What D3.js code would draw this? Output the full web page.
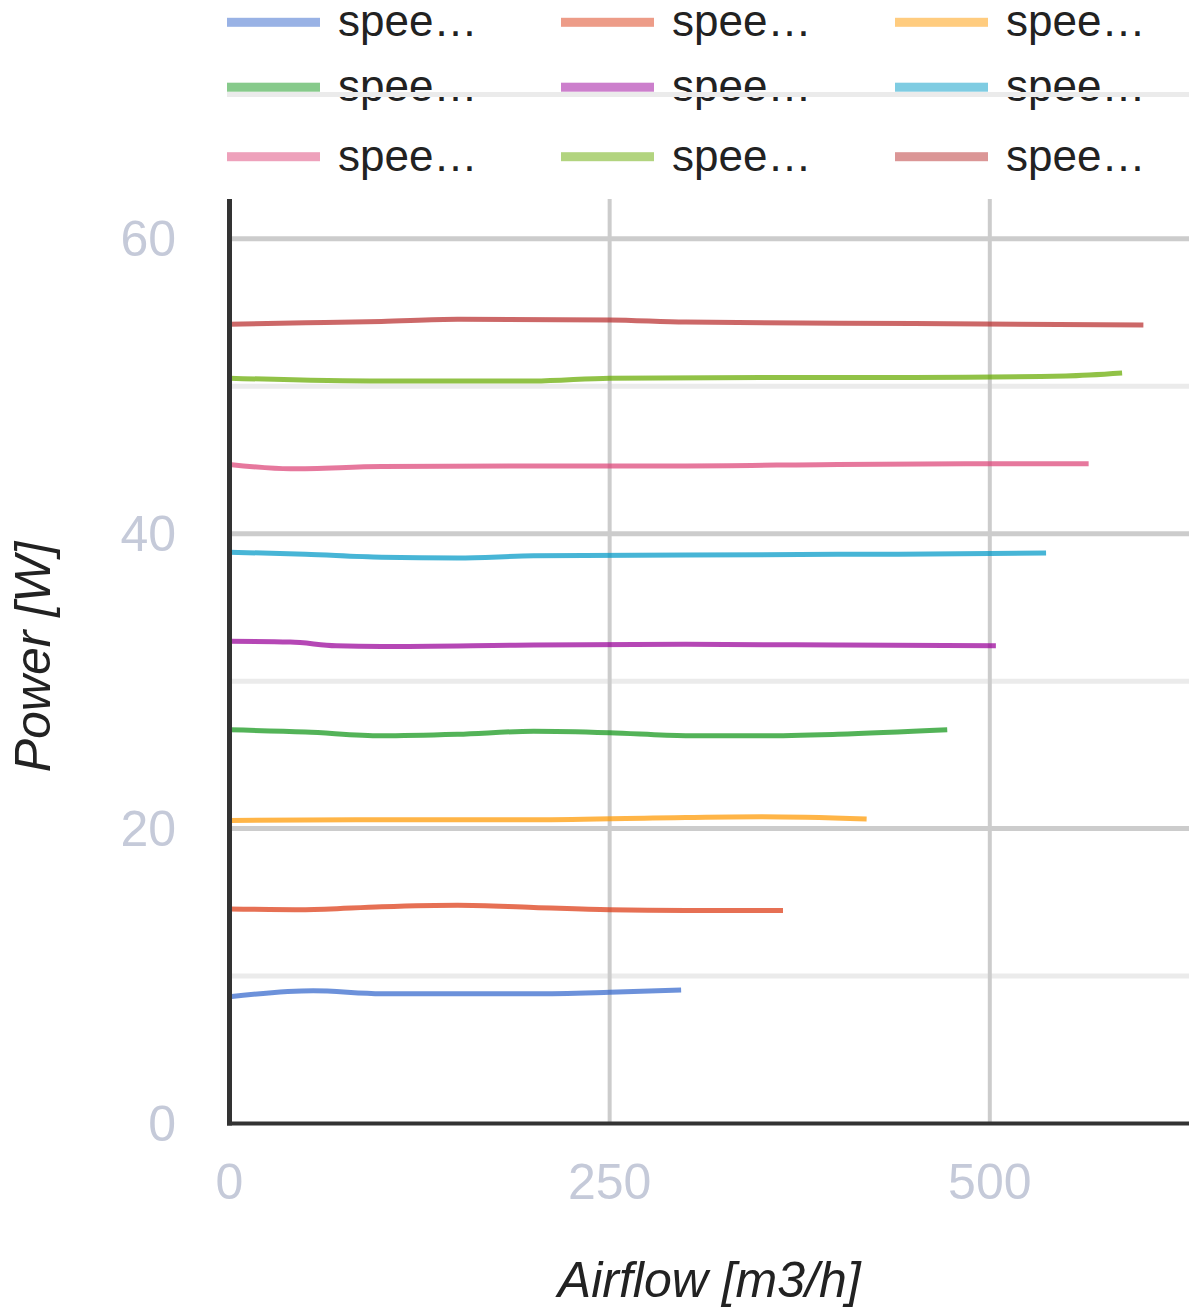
<!DOCTYPE html>
<html lang="en">
<head>
<meta charset="utf-8">
<title>Power vs Airflow</title>
<script src="https://d3js.org/d3.v7.min.js"></script>
<style>
  body { margin: 0; background: #fff; }
  svg { display: block; font-family: "Liberation Sans", Arial, sans-serif; }
  .tick-label { fill: #c5cad9; font-size: 50px; }
  .axis-title { fill: #222; font-size: 50px; font-style: italic; }
  .legend-text { fill: #222; font-size: 44px; }
</style>
</head>
<body>
<script>
// series names + colours (google-ish palette)
const seriesNames = ["speed 1", "speed 2", "speed 3", "speed 4", "speed 5", "speed 6", "speed 7", "speed 8", "speed 9"];
const seriesColors = ["#3366cc", "#dc3912", "#ff9900", "#109618", "#990099", "#0099c6", "#dd4477", "#66aa00", "#b82e2e"];

// airflow [m3/h] per series
const airflow = [
  [0, 55, 100, 150, 200, 250, 297],
  [0, 50, 100, 150, 200, 250, 300, 364],
  [0, 100, 200, 300, 350, 419],
  [0, 50, 100, 150, 200, 250, 300, 350, 400, 472],
  [0, 40, 70, 100, 200, 300, 400, 504],
  [0, 50, 100, 150, 200, 300, 400, 500, 537],
  [0, 40, 100, 200, 300, 400, 500, 565],
  [0, 100, 200, 250, 350, 450, 550, 587],
  [0, 50, 100, 150, 250, 300, 450, 601]
];
// power [W] per series
const power = [
  [8.6, 9.0, 8.8, 8.8, 8.8, 8.9, 9.05],
  [14.55, 14.5, 14.7, 14.8, 14.65, 14.5, 14.45, 14.45],
  [20.55, 20.6, 20.6, 20.75, 20.8, 20.65],
  [26.7, 26.55, 26.3, 26.4, 26.6, 26.5, 26.3, 26.3, 26.4, 26.7],
  [32.7, 32.65, 32.4, 32.35, 32.45, 32.5, 32.45, 32.4],
  [38.75, 38.6, 38.4, 38.35, 38.5, 38.55, 38.6, 38.65, 38.7],
  [44.7, 44.4, 44.55, 44.6, 44.6, 44.7, 44.75, 44.75],
  [50.55, 50.35, 50.35, 50.55, 50.6, 50.6, 50.7, 50.9],
  [54.2, 54.3, 54.4, 54.55, 54.5, 54.35, 54.25, 54.15]
];

const xTicks = [0, 250, 500];
const yTicks = [0, 20, 40, 60];
const yMinorTicks = [10, 30, 50];
const xMax = 631;
const yMax = 62.7;

const width = 1189, height = 1311;
const plotLeft = 229.5, plotRight = 1189, plotTop = 199, plotBottom = 1123.5;

const svg = d3.select("body").append("svg")
  .attr("width", width)
  .attr("height", height);

const x = d3.scaleLinear().domain([0, xMax]).range([plotLeft, plotRight]);
const y = d3.scaleLinear().domain([0, yMax]).range([plotBottom, plotTop]);

// gridlines
const grid = svg.append("g");
grid.selectAll(".ymin").data(yMinorTicks).join("line")
  .attr("x1", plotLeft).attr("x2", plotRight)
  .attr("y1", d => y(d)).attr("y2", d => y(d))
  .attr("stroke", "#ebebeb").attr("stroke-width", 5);
grid.selectAll(".ymaj").data(yTicks.filter(d => d > 0)).join("line")
  .attr("x1", plotLeft).attr("x2", plotRight)
  .attr("y1", d => y(d)).attr("y2", d => y(d))
  .attr("stroke", "#cccccc").attr("stroke-width", 5);
grid.selectAll(".xmaj").data(xTicks.filter(d => d > 0)).join("line")
  .attr("x1", d => x(d)).attr("x2", d => x(d))
  .attr("y1", plotTop).attr("y2", plotBottom)
  .attr("stroke", "#cccccc").attr("stroke-width", 4);

// lines
const line = d3.line()
  .x(d => x(d[0]))
  .y(d => y(d[1]))
  .curve(d3.curveMonotoneX);

svg.append("g").selectAll("path")
  .data(seriesNames.map((n, i) => airflow[i].map((a, j) => [a, power[i][j]])))
  .join("path")
  .attr("d", line)
  .attr("fill", "none")
  .attr("stroke", (d, i) => seriesColors[i])
  .attr("stroke-width", 5)
  .attr("stroke-opacity", 0.72);

// axes (drawn as plain lines, google style)
svg.append("line")
  .attr("x1", plotLeft).attr("x2", plotLeft)
  .attr("y1", plotTop).attr("y2", plotBottom + 2)
  .attr("stroke", "#333").attr("stroke-width", 5);
svg.append("line")
  .attr("x1", plotLeft - 2.5).attr("x2", plotRight)
  .attr("y1", plotBottom).attr("y2", plotBottom)
  .attr("stroke", "#333").attr("stroke-width", 4);

// tick labels
svg.append("g").selectAll("text")
  .data(yTicks).join("text")
  .attr("class", "tick-label")
  .attr("x", 176)
  .attr("y", d => y(d))
  .attr("dy", "0.35em")
  .attr("text-anchor", "end")
  .text(d => d);

svg.append("g").selectAll("text")
  .data(xTicks).join("text")
  .attr("class", "tick-label")
  .attr("x", d => x(d))
  .attr("y", plotBottom + 75.5)
  .attr("text-anchor", "middle")
  .text(d => d);

// axis titles
svg.append("text")
  .attr("class", "axis-title")
  .attr("x", (plotLeft + plotRight) / 2)
  .attr("y", 1297)
  .attr("text-anchor", "middle")
  .text("Airflow [m3/h]");

svg.append("text")
  .attr("class", "axis-title")
  .attr("transform", "translate(50,657) rotate(-90)")
  .attr("text-anchor", "middle")
  .text("Power [W]");

// legend: 3 columns x 3 rows
const legendCols = [227, 561, 895];
const legendRows = [22.3, 87.2, 156.7];
const legend = svg.append("g");
seriesNames.forEach((name, i) => {
  const cx = legendCols[i % 3], cy = legendRows[Math.floor(i / 3)];
  legend.append("rect")
    .attr("x", cx).attr("y", cy - 4.5)
    .attr("width", 93).attr("height", 9)
    .attr("fill", seriesColors[i]).attr("fill-opacity", 0.5);
  legend.append("text")
    .attr("class", "legend-text")
    .attr("x", cx + 111).attr("y", cy + 14)
    .text(name.slice(0, 4) + "\u2026");
});

// faint rule that runs through the 2nd legend row
svg.append("line")
  .attr("x1", 227).attr("x2", plotRight)
  .attr("y1", 94.5).attr("y2", 94.5)
  .attr("stroke", "#ebebeb").attr("stroke-width", 5);
</script>
</body>
</html>
